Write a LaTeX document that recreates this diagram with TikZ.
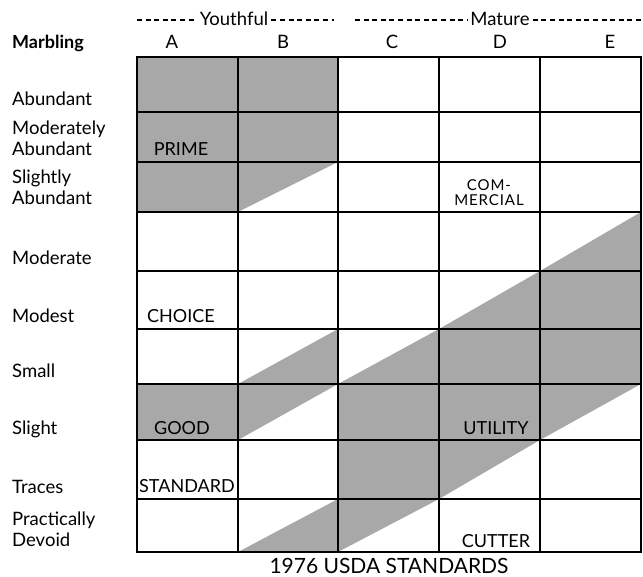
\documentclass[tikz,border=0pt]{standalone}
\usepackage{fontspec}
\setmainfont{Lato}
\definecolor{gradegray}{gray}{0.66}

\begin{document}
\begin{tikzpicture}[
    x=1pt, y=-1pt,
    shaded/.style={fill=gradegray, draw=none},
    gridline/.style={line width=1.7pt, line cap=rect},
    dashline/.style={line width=1.2pt, dash pattern=on 5pt off 3.6pt},
    rowlabel/.style={anchor=base west, inner sep=0pt, align=left, font=\fontsize{18.5}{21}\selectfont},
    colhead/.style={anchor=base, inner sep=0pt, font=\fontsize{18.5}{21}\selectfont},
    grade/.style={anchor=base, inner sep=0pt, font=\fontsize{18}{20}\selectfont},
    smallgrade/.style={anchor=base, inner sep=0pt, align=center, font=\fontsize{15}{15}\selectfont\addfontfeature{LetterSpace=6}}
]
    \useasboundingbox (0,0) rectangle (643,577);

    % Grid corners
    \foreach \x [count=\i from 0] in {137,238,338,439,540,641}{
        \foreach \y [count=\j from 0] in {57,112,162,212,271,329,384,440,499,552}{
            \coordinate (g\i-\j) at (\x,\y);
        }
    }

    % Prime
    \fill[shaded] (g0-0) -- (g2-0) -- (g2-2) -- (g1-3) -- (g0-3) -- cycle;
    % Good
    \fill[shaded] (g0-6) -- (g1-6) -- (g2-5) -- (g2-6) -- (g1-7) -- (g0-7) -- cycle;
    % Utility
    \fill[shaded] (g2-6) -- (g3-5) -- (g4-4) -- (g5-3) -- (g5-6) -- (g4-7) -- (g3-8) -- (g2-9) -- cycle;
    \fill[shaded] (g1-9) -- (g2-8) -- (g2-9) -- cycle;

    % Grid
    \foreach \i in {0,...,5}
        \draw[gridline] (g\i-0) -- (g\i-9);
    \foreach \j in {0,...,9}
        \draw[gridline] (g0-\j) -- (g5-\j);

    % Header
    \node[colhead, font=\fontsize{18}{21}\selectfont\bfseries, anchor=base west] (marbling) at (12,49) {Marbling};
    \node[colhead] (colA) at (172,49) {A};
    \node[colhead] (colB) at (283,49) {B};
    \node[colhead] (colC) at (392,49) {C};
    \node[colhead] (colD) at (500,49) {D};
    \node[colhead] (colE) at (610,49) {E};

    \node[colhead] (youthful) at (234,26) {Youthful};
    \node[colhead] (mature) at (500,26) {Mature};
    \coordinate (youth-l) at (137,20);
    \coordinate (youth-r) at (334,20);
    \coordinate (mature-l) at (355,20);
    \coordinate (mature-r) at (643,20);
    \draw[dashline] (youth-l) -- ([xshift=-3pt]youth-l -| youthful.west);
    \draw[dashline] ([xshift=3pt]youth-r -| youthful.east) -- (youth-r);
    \draw[dashline] (mature-l) -- ([xshift=-3pt]mature-l -| mature.west);
    \draw[dashline] ([xshift=3pt]mature-r -| mature.east) -- (mature-r);

    % Marbling degrees
    \node[rowlabel] (abundant) at (12,106) {Abundant};
    \node[rowlabel] (modab) at (12,156) {Moderately\\Abundant};
    \node[rowlabel] (slab) at (12,205) {Slightly\\Abundant};
    \node[rowlabel] (moderate) at (12,265) {Moderate};
    \node[rowlabel] (modest) at (12,323) {Modest};
    \node[rowlabel] (small) at (12,378) {Small};
    \node[rowlabel] (slight) at (12,435) {Slight};
    \node[rowlabel] (traces) at (12,493) {Traces};
    \node[rowlabel] (pdevoid) at (12,546) {Practically\\Devoid};

    % Grades
    \node[grade] (prime) at (181,156) {PRIME};
    \node[grade] (choice) at (181,323) {CHOICE};
    \node[grade] (good) at (182,435) {GOOD};
    \node[grade] (standard) at (187,492) {STANDARD};
    \node[smallgrade] (commercial) at (489,206) {COM-\\MERCIAL};
    \node[grade] (utility) at (496,435) {UTILITY};
    \node[grade] (cutter) at (496,547) {CUTTER};

    \node[anchor=base, inner sep=0pt, font=\fontsize{21}{24}\selectfont] (title) at (389,573) {1976 USDA STANDARDS};

\end{tikzpicture}
\end{document}
